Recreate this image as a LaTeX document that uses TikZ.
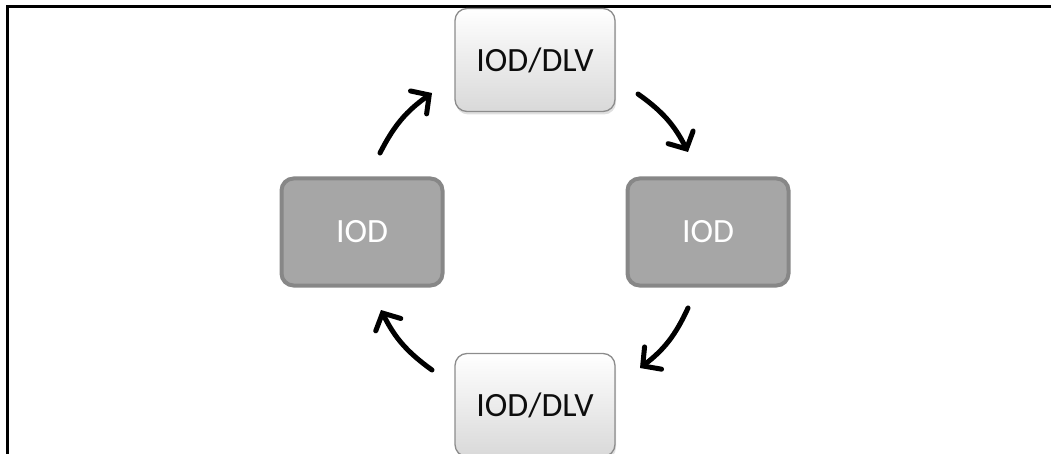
\documentclass[tikz,border=0pt]{standalone}
\usepackage{fontspec}
\setmainfont{Carlito}
\usetikzlibrary{arrows.meta,shadows}
\definecolor{midfill}{HTML}{A6A6A6}
\definecolor{midline}{HTML}{878787}
\definecolor{lightline}{HTML}{8C8C8C}
\definecolor{txt}{HTML}{0D0D0D}
\tikzset{
  lightbox/.style={rectangle, rounded corners=12pt, minimum width=160pt, minimum height=103pt,
    top color=white, bottom color=black!15, draw=lightline, line width=1.3pt,
    text=txt, font=\fontsize{34}{37}\selectfont,
    drop shadow={opacity=0.25, shadow xshift=1pt, shadow yshift=-3pt}},
  darkbox/.style={rectangle, rounded corners=12pt, minimum width=161pt, minimum height=107pt,
    fill=midfill, draw=midline, line width=4pt,
    text=white, font=\fontsize{34}{37}\selectfont},
  flow/.style={line width=5pt, line cap=round,
    -{Straight Barb[length=13pt,width=28pt,line cap=round]}}
}
\begin{document}
\begin{tikzpicture}[x=1pt,y=-1pt]
\useasboundingbox (0,0) rectangle (1051,454);
\clip (0,0) rectangle (1051,454);
\draw[line width=3pt] (7.5,6.5) rectangle (1070,470);
\node[lightbox] (t) at (535,60) {IOD/DLV};
\node[lightbox] (b) at (535,405) {IOD/DLV};
\node[darkbox] (l) at (362,232) {IOD};
\node[darkbox] (r) at (708,232) {IOD};
\coordinate (a1s) at (380,153);
\coordinate (a1e) at (432,93);
\coordinate (a2s) at (638,94);
\coordinate (a2e) at (688,152);
\coordinate (a3s) at (688,308);
\coordinate (a3e) at (640,368);
\coordinate (a4s) at (432,370);
\coordinate (a4e) at (381,310);
\draw[flow] (a1s) to[bend left=14] (a1e);
\draw[flow] (a2s) to[bend left=14] (a2e);
\draw[flow] (a3s) to[bend left=14] (a3e);
\draw[flow] (a4s) to[bend left=14] (a4e);
\end{tikzpicture}
\end{document}
